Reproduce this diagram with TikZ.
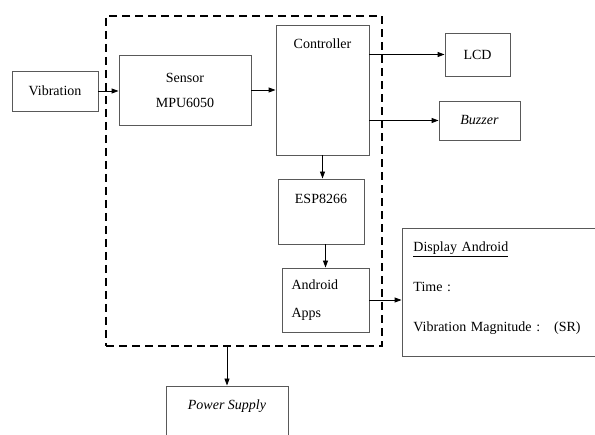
\documentclass[tikz,border=0pt]{standalone}
\usepackage{fontspec}
\setmainfont{Liberation Serif}
\usetikzlibrary{arrows.meta}

\begin{document}
\begin{tikzpicture}[x=1pt,y=-1pt,->,>={Triangle[length=7pt,width=5pt]},line width=0.9pt,
  font=\fontsize{14}{16}\selectfont]
\tikzstyle{block}=[rectangle,draw=black!65,line width=0.9pt,inner sep=0pt]
\tikzstyle{board}=[rectangle,draw=black,line width=2.6pt,dash pattern=on 8pt off 5pt]
\tikzstyle{toplabel}=[anchor=north,inner sep=0pt]

\useasboundingbox (0,0) rectangle (595,435);
\clip (0,0) rectangle (595,435);

% The dashed board
\node[board,minimum width=276pt,minimum height=330pt] (B) at (244,181) {};

% Blocks inside the board
\node[block,minimum width=132pt,minimum height=70pt,align=center,
  font=\fontsize{14}{25}\selectfont] (S) at (185,90) {Sensor\\MPU6050};
\node[block,minimum width=93pt,minimum height=130pt,
  label={[toplabel,yshift=-14pt]90:Controller}] (C) at (322.5,90) {};
\node[block,minimum width=86pt,minimum height=65pt,
  label={[toplabel,yshift=-15pt]90:ESP8266}] (E) at (321,211.5) {};
\node[block,minimum width=87pt,minimum height=64pt,text width=68pt,align=left,
  font=\fontsize{14}{28}\selectfont] (A) at (325.5,300) {Android\\Apps};

% Blocks outside the board
\node[block,minimum width=86pt,minimum height=40pt] (V) at (55,91) {Vibration};
\node[block,minimum width=65pt,minimum height=43pt] (L) at (477.5,54.5) {LCD};
\node[block,minimum width=81pt,minimum height=39pt] (Z) at (479.5,120.5) {\textit{Buzzer}};
\node[block,minimum width=196pt,minimum height=128pt,
  label={[anchor=north west,inner sep=0pt,text width=174pt,align=left,
    font=\fontsize{14}{40}\selectfont,xshift=-87pt,yshift=-14pt]90:%
  \underline{Display Android}\\Time :\\Vibration Magnitude :\ \ \ (SR)}] (D) at (500,292) {};
\node[block,minimum width=122pt,minimum height=54pt,
  label={[toplabel,yshift=-14pt]90:\textit{Power Supply}}] (P) at (227,413) {};

% Connections
\draw (V.east) -- (V.east -| S.west);
\draw (S.east) -- (S.east -| C.west);
\draw (C.east |- L) -- (L.west);
\draw (C.east |- Z) -- (Z.west);
\draw (C.south) -- (C.south |- E.north);
\draw (E.south -| A.north) -- (A.north);
\draw (A.east) -- (A.east -| D.west);
\draw (B.south -| P.north) -- (P.north);
\end{tikzpicture}
\end{document}
